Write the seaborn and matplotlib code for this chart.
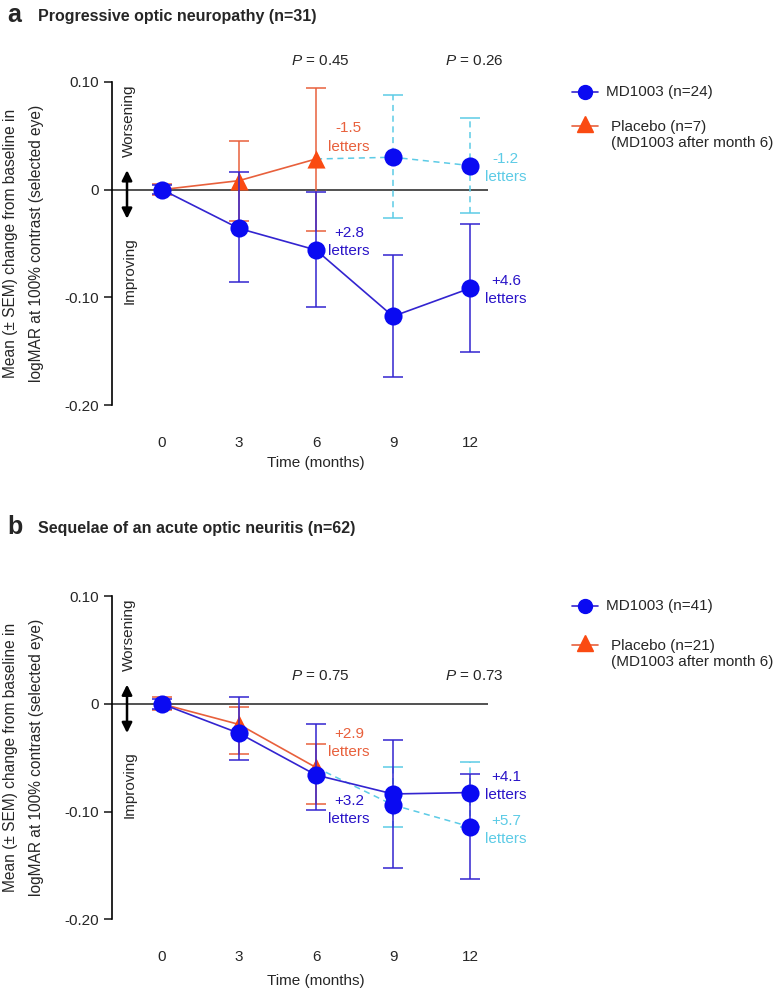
import numpy as np
import matplotlib
matplotlib.use("Agg")
import matplotlib.pyplot as plt
from matplotlib.lines import Line2D
import seaborn as sns

# ---- data ----
months = [0, 3, 6, 9, 12]
placebo_months = [0, 3, 6]
switch_months = [6, 9, 12]
tick_labels = ["0.10", "0", "-0.10", "-0.20"]
tick_values = [0.10, 0.0, -0.10, -0.20]

# panel a: progressive optic neuropathy
a_md_mean = [0.0, -0.036, -0.056, -0.1175, -0.0915]
a_md_hi = [0.004, 0.016, -0.0025, -0.061, -0.032]
a_md_lo = [-0.004, -0.086, -0.1085, -0.174, -0.1505]
a_pl_mean = [0.0, 0.0083, 0.0284]
a_pl_hi = [0.005, 0.0454, 0.0946]
a_pl_lo = [-0.005, -0.0288, -0.038]
a_sw_mean = [0.0284, 0.030, 0.0223]
a_sw_hi = [np.nan, 0.0878, 0.0668]
a_sw_lo = [np.nan, -0.026, -0.0213]
a_pvals = ["0.45", "0.26"]

# panel b: sequelae of acute optic neuritis
b_md_mean = [0.0, -0.0272, -0.066, -0.0836, -0.0823]
b_md_hi = [0.005, 0.0068, -0.0189, -0.0334, -0.0654]
b_md_lo = [-0.005, -0.0523, -0.0988, -0.1526, -0.1625]
b_pl_mean = [0.0, -0.019, -0.059]
b_pl_hi = [0.006, -0.0025, -0.0375]
b_pl_lo = [-0.006, -0.0467, -0.0925]
b_sw_mean = [-0.059, -0.0938, -0.114]
b_sw_hi = [np.nan, -0.059, -0.054]
b_sw_lo = [np.nan, -0.114, -0.114]
b_pvals = ["0.75", "0.73"]

BLUE = "#0a0af2"
BLUE_LINE = "#3324d0"
BLUE_TXT = "#2a14c8"
ORANGE = "#fa4a12"
ORANGE_LINE = "#e8603c"
CYAN = "#5ccbe6"

sns.set_style("ticks")
plt.rcParams["font.family"] = ["Liberation Sans", "DejaVu Sans"]
plt.rcParams["mathtext.fontset"] = "custom"
plt.rcParams["mathtext.rm"] = "Liberation Sans"
plt.rcParams["mathtext.it"] = "Liberation Sans:italic"
plt.rcParams["font.size"] = 11

fig = plt.figure(figsize=(7.8, 9.92), dpi=100)
ax_a = fig.add_axes([0.1432, 0.5914, 0.4824, 0.3262])
ax_b = fig.add_axes([0.1432, 0.0733, 0.4824, 0.3256])


def whiskers(ax, x, mean, hi, lo, color, dashed=False, z=2):
    x = np.array(x, float)
    mean = np.array(mean, float)
    hi = np.array(hi, float)
    lo = np.array(lo, float)
    ok = np.isfinite(hi)
    eb = ax.errorbar(x[ok], mean[ok], yerr=[mean[ok] - lo[ok], hi[ok] - mean[ok]],
                     fmt="none", ecolor=color, elinewidth=1.1, capsize=7,
                     capthick=1.1, zorder=z)
    if dashed:
        eb[2][0].set_linestyle((0, (4, 3)))


def panel(ax, md_mean, md_hi, md_lo, pl_mean, pl_hi, pl_lo,
          sw_mean, sw_hi, sw_lo, pvals, p_y, notes, xlab_y):
    ax.set_xlim(-1.96, 12.7)
    ax.set_ylim(-0.20, 0.10)
    ax.axhline(0, color="#333333", lw=1.2, zorder=1)

    # switch (placebo -> MD1003 after month 6)
    whiskers(ax, switch_months, sw_mean, sw_hi, sw_lo, CYAN, dashed=True, z=2)
    sns.lineplot(x=switch_months, y=sw_mean, ax=ax, color=CYAN, lw=1.1,
                 linestyle=(0, (4, 3)), zorder=2)
    # placebo
    whiskers(ax, placebo_months, pl_mean, pl_hi, pl_lo, ORANGE_LINE, z=3)
    sns.lineplot(x=placebo_months, y=pl_mean, ax=ax, color=ORANGE_LINE, lw=1.2,
                 zorder=3)
    sns.scatterplot(x=placebo_months[1:], y=pl_mean[1:], ax=ax, marker="^",
                    color=ORANGE, s=170, edgecolor=ORANGE, linewidth=0, zorder=4)
    # MD1003
    whiskers(ax, months, md_mean, md_hi, md_lo, BLUE_LINE, z=5)
    sns.lineplot(x=months, y=md_mean, ax=ax, color=BLUE_LINE, lw=1.2, zorder=5)
    sns.scatterplot(x=months, y=md_mean, ax=ax, color=BLUE, s=170,
                    edgecolor=BLUE, linewidth=0, zorder=6)
    sns.scatterplot(x=switch_months[1:], y=sw_mean[1:], ax=ax, color=BLUE,
                    s=170, edgecolor=BLUE, linewidth=0, zorder=6)

    sns.despine(ax=ax, bottom=True)
    ax.spines["left"].set_linewidth(1.2)
    ax.spines["left"].set_color("black")
    ax.set_yticks(tick_values)
    ax.set_yticklabels(tick_labels)
    ax.set_xticks(months)
    ax.set_xticklabels([str(m) for m in months])
    ax.tick_params(axis="y", length=6, width=1.2, labelsize=11, pad=3)
    ax.tick_params(axis="x", length=0, labelsize=11, pad=22)
    ax.set_xlabel("Time (months)", fontsize=11)
    ax.xaxis.set_label_coords((6 + 1.96) / 14.66, xlab_y)
    ax.set_ylabel("")

    # P values
    for xp, pv in zip([6.15, 12.15], pvals):
        ax.text(xp, p_y, r"$\it{P}$ = " + pv, ha="center", va="center",
                fontsize=11, clip_on=False)

    # worsening / improving
    tr = ax.get_yaxis_transform()
    ax.annotate("", xy=(0.0407, 0.018), xytext=(0.0407, -0.027),
                xycoords=tr, textcoords=tr,
                arrowprops=dict(arrowstyle="<|-|>", color="black", lw=1.8,
                                mutation_scale=15, shrinkA=0, shrinkB=0))
    ax.text(0.047, 0.064, "Worsening", transform=tr, rotation=90,
            ha="center", va="center", fontsize=11)
    ax.text(0.047, -0.075, "Improving", transform=tr, rotation=90,
            ha="center", va="center", fontsize=11)

    for xn, yn, txt, col in notes:
        ax.text(xn, yn, txt + "\nletters", ha="center", va="center",
                color=col, fontsize=11, linespacing=1.4, clip_on=False)


panel(ax_a, a_md_mean, a_md_hi, a_md_lo, a_pl_mean, a_pl_hi, a_pl_lo,
      a_sw_mean, a_sw_hi, a_sw_lo, a_pvals, 0.1194,
      [(7.28, 0.0483, "-1.5", ORANGE_LINE), (7.28, -0.0484, "+2.8", BLUE_TXT),
       (13.4, 0.0201, "-1.2", CYAN), (13.4, -0.0929, "+4.6", BLUE_TXT)], -0.158)
panel(ax_b, b_md_mean, b_md_hi, b_md_lo, b_pl_mean, b_pl_hi, b_pl_lo,
      b_sw_mean, b_sw_hi, b_sw_lo, b_pvals, 0.026,
      [(7.28, -0.0362, "+2.9", ORANGE_LINE), (7.28, -0.0984, "+3.2", BLUE_TXT),
       (13.4, -0.0761, "+4.1", BLUE_TXT), (13.4, -0.117, "+5.7", CYAN)], -0.168)

W, H = 780.0, 992.0


def fx(px):
    return px / W


def fy(py):
    return 1 - py / H


# y labels
for yc in [243, 757]:
    fig.text(fx(23.5), fy(yc),
             "Mean (\u00b1 SEM) change from baseline in\nlogMAR at 100% contrast (selected eye)",
             rotation=90, ha="center", va="center", multialignment="center",
             fontsize=11.2, linespacing=1.95)

# panel titles
fig.text(fx(7), fy(15), "a", fontsize=18, fontweight="bold", ha="left", va="center")
fig.text(fx(38), fy(16), "Progressive optic neuropathy (n=31)", fontsize=11.5,
         fontweight="bold", ha="left", va="center")
fig.text(fx(7), fy(527), "b", fontsize=18, fontweight="bold", ha="left", va="center")
fig.text(fx(38), fy(529), "Sequelae of an acute optic neuritis (n=62)", fontsize=11.5,
         fontweight="bold", ha="left", va="center")


# legends
def legend(y1, y2, n_md, n_pl):
    fig.add_artist(Line2D([fx(572), fx(598)], [fy(y1), fy(y1)], color=BLUE_LINE,
                          lw=1.2, transform=fig.transFigure))
    fig.add_artist(Line2D([fx(585)], [fy(y1)], marker="o", ms=10, color=BLUE,
                          mec=BLUE, ls="none", transform=fig.transFigure))
    fig.text(fx(606), fy(y1), f"MD1003 (n={n_md})", fontsize=11, ha="left", va="center")
    fig.add_artist(Line2D([fx(572), fx(598)], [fy(y2), fy(y2)], color=ORANGE_LINE,
                          lw=1.2, transform=fig.transFigure))
    fig.add_artist(Line2D([fx(585)], [fy(y2 - 2)], marker="^", ms=12, color=ORANGE,
                          mec=ORANGE, ls="none", transform=fig.transFigure))
    fig.text(fx(611), fy(y2 + 1), f"Placebo (n={n_pl})", fontsize=11, ha="left",
             va="center")
    fig.text(fx(611), fy(y2 + 17), "(MD1003 after month 6)", fontsize=11,
             ha="left", va="center")


legend(91.7, 126, 24, 7)
legend(605.7, 645, 41, 21)

fig.savefig("out.png", dpi=100)
